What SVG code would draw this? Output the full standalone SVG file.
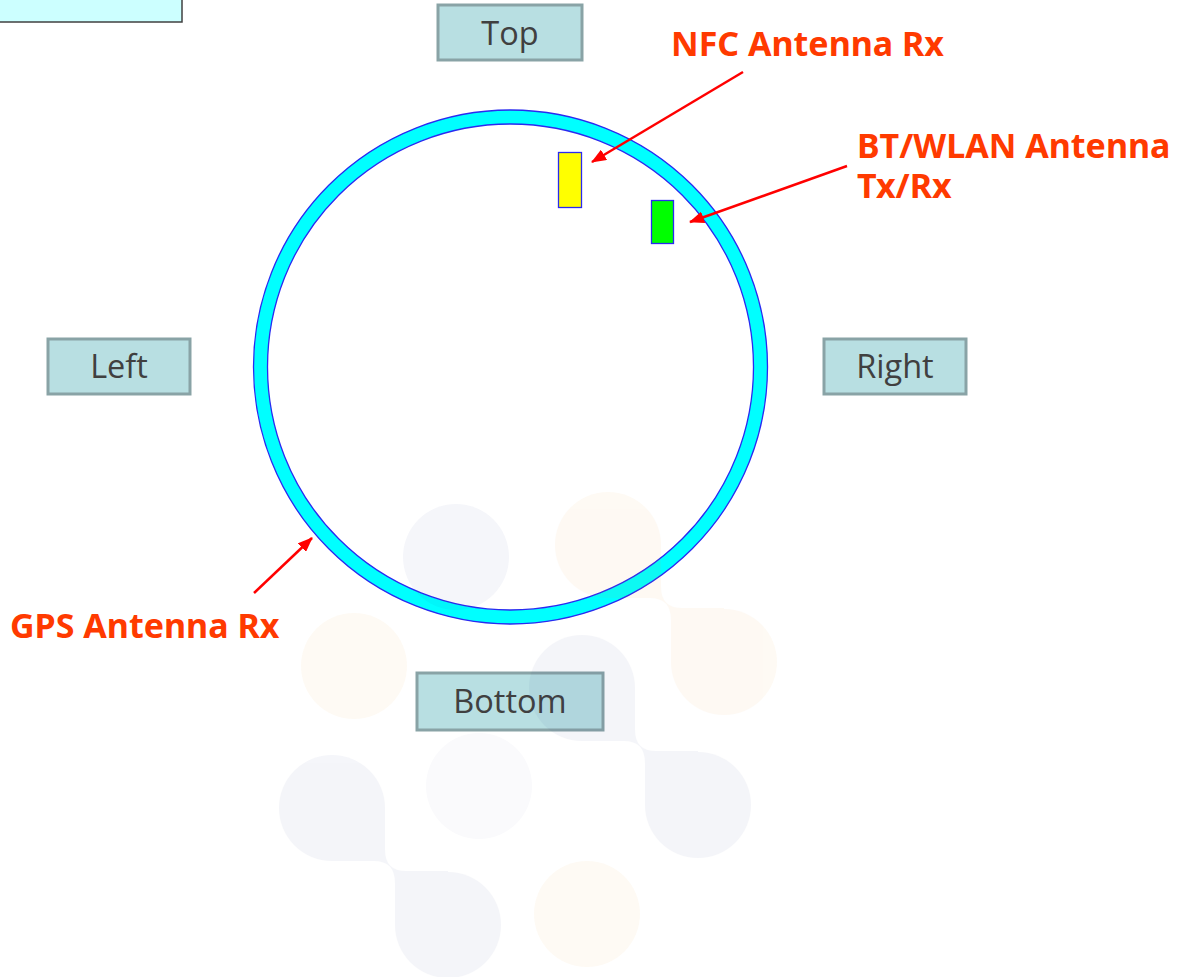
<svg xmlns="http://www.w3.org/2000/svg" width="1185" height="977" viewBox="0 0 1185 977">
<style>
.box{fill:#b8dfe2;stroke:#89a3a6;stroke-width:3}
.lbl{font-family:"Open Sans","Noto Sans",sans-serif;font-size:32.5px;fill:#404040;text-anchor:middle}
.ann{font-family:"Noto Sans","Open Sans",sans-serif;font-size:34px;font-weight:bold;fill:#ff3a00}
.arr{stroke:#ff0000;stroke-width:2.5;fill:none;marker-end:url(#ah)}
</style>
<defs>
<marker id="ah" markerUnits="userSpaceOnUse" markerWidth="16" markerHeight="12" refX="14" refY="6" orient="auto">
<path d="M0,0 L15,6 L0,12 Z" fill="#ff0000"/>
</marker>
<path id="blob" d="M0,0 H53 V42 Q53,63 74,63 H116 V117 H63 V75 Q63,53 42,53 H0 Z"/>
</defs>
<rect width="1185" height="977" fill="#ffffff"/>

<g id="corner-box"><rect x="-2" y="-2" width="184" height="24" fill="#ccffff" stroke="#404040" stroke-width="1.5"/></g>

<g id="ring">
<circle cx="510.5" cy="367" r="250" fill="none" stroke="#00ffff" stroke-width="14"/>
<circle cx="510.5" cy="367" r="257" fill="none" stroke="#2a2af0" stroke-width="1.3"/>
<circle cx="510.5" cy="367" r="243" fill="none" stroke="#2a2af0" stroke-width="1.3"/>
</g>

<g id="nfc-antenna"><rect x="558.5" y="152.5" width="23" height="55" fill="#ffff00" stroke="#2a2af0" stroke-width="1.3"/></g>
<g id="bt-antenna"><rect x="651.5" y="200.5" width="22" height="43" fill="#00ff00" stroke="#2a2af0" stroke-width="1.3"/></g>

<g id="top"><rect class="box" x="438" y="5" width="144" height="55"/><text class="lbl" x="510" y="45">Top</text></g>
<g id="left"><rect class="box" x="48" y="339" width="142" height="55"/><text class="lbl" x="119" y="378">Left</text></g>
<g id="right"><rect class="box" x="824" y="339" width="142" height="55"/><text class="lbl" x="895" y="378">Right</text></g>
<g id="bottom"><rect class="box" x="417" y="673" width="186" height="57"/><text class="lbl" x="510" y="713">Bottom</text></g>

<g id="nfc-label"><text class="ann" x="671" y="56">NFC Antenna Rx</text></g>
<g id="bt-label"><text class="ann" x="857" y="158">BT/WLAN Antenna</text><text class="ann" x="857" y="198">Tx/Rx</text></g>
<g id="gps-label"><text class="ann" x="10" y="638">GPS Antenna Rx</text></g>

<g id="connectors">
<line class="arr" x1="743" y1="72" x2="592" y2="162"/>
<line class="arr" x1="847" y1="166" x2="690" y2="222"/>
<line class="arr" x1="254" y1="593" x2="312" y2="538"/>
</g>

<g id="watermark">
<g opacity="0.05" fill="#f09628">
<circle cx="608" cy="545" r="53"/><circle cx="724" cy="662" r="53"/><use href="#blob" x="608" y="545"/>
</g>
<g opacity="0.05" fill="#f09628"><circle cx="354" cy="666" r="53"/></g>
<g opacity="0.05" fill="#f09628"><circle cx="587" cy="914" r="53"/></g>
<g opacity="0.045" fill="#1e3282">
<circle cx="582" cy="688" r="53"/><circle cx="698" cy="805" r="53"/><use href="#blob" x="582" y="688"/>
</g>
<g opacity="0.045" fill="#1e3282">
<circle cx="332" cy="808" r="53"/><circle cx="448" cy="925" r="53"/><use href="#blob" x="332" y="808"/>
</g>
<g opacity="0.045" fill="#1e3282"><circle cx="456" cy="557" r="53"/></g>
<g opacity="0.025" fill="#1e3282"><circle cx="479" cy="786" r="53"/></g>
</g>
</svg>
